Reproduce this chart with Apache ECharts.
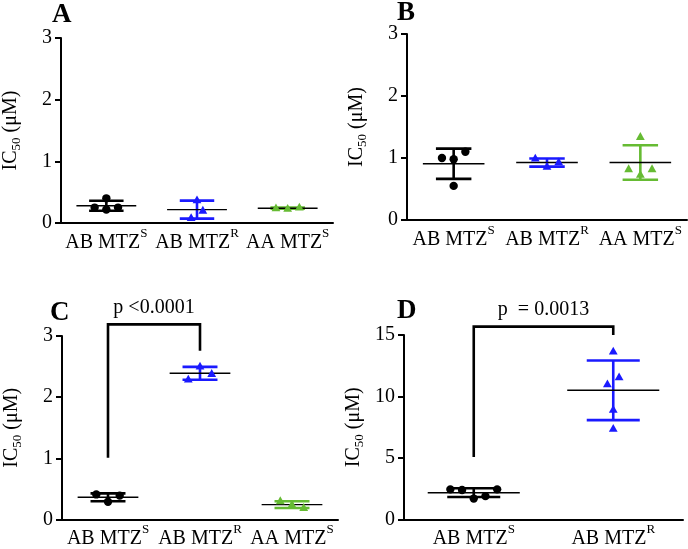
<!DOCTYPE html>
<html><head><meta charset="utf-8">
<script src="https://cdn.jsdelivr.net/npm/echarts@6/dist/echarts.min.js"></script>
<style>html,body{margin:0;padding:0;background:#fff}#c{width:688px;height:549px}</style>
</head><body><div id="c"></div>
<script>
// ---------- data ----------
const catsABC = ['AB MTZ^S', 'AB MTZ^R', 'AA MTZ^S'];
const catsD = ['AB MTZ^S', 'AB MTZ^R'];
const groupColors = ['#000000', '#1a1aff', '#66bb33'];
const groupShapes = ['circle', 'triangle', 'triangle'];

// Panel A  (IC50, µM)
const A_abS = [0.25, 0.22, 0.25, 0.40];
const A_abR = [0.37, 0.08, 0.20];
const A_aaS = [0.24, 0.23, 0.25];
// Panel B
const B_abS = [1.00, 0.98, 1.10, 0.55];
const B_abR = [0.99, 0.86, 0.93];
const B_aaS = [0.82, 0.73, 0.82, 1.34];
// Panel C
const C_abS = [0.41, 0.29, 0.39];
const C_abR = [2.29, 2.50, 2.38];
const C_aaS = [0.30, 0.24, 0.19];
// Panel D
const D_abS = [2.45, 2.40, 1.70, 1.90, 2.45];
const D_abR = [13.65, 11.00, 11.57, 8.92, 7.38];

// y axis scales
const yMaxABC = 3, yStepABC = 1;
const yMaxD = 15, yStepD = 5;

// significance brackets
const bracketC = { from: 0, to: 1, top: 3.19, leftEnd: 1.01, rightEnd: 2.76, text: 'p <0.0001' };
const bracketD = { from: 0, to: 1, top: 15.68, leftEnd: 5.08, rightEnd: 15.0, text: 'p  = 0.0013' };

const panelLetters = ['A', 'B', 'C', 'D'];

// ---------- layout ----------
const FONT = "'Liberation Serif','Times New Roman',serif";
const grids = [
  { left: 60, top: 38, width: 273, height: 185 },
  { left: 407, top: 34, width: 280, height: 186 },
  { left: 62, top: 336, width: 276, height: 185 },
  { left: 404, top: 335, width: 279, height: 185 }
];
const letterPos = [[52, 2], [397, 0], [50, 300], [397, 298]];
const SPACING = 11.7;

function mean(a) { return a.reduce((s, v) => s + v, 0) / a.length; }
function sd(a) { const m = mean(a); return Math.sqrt(a.reduce((s, v) => s + (v - m) * (v - m), 0) / (a.length - 1)); }

function dodge(values, pxPerUnit) {
  const idx = values.map((v, i) => i).sort((a, b) => values[a] - values[b]);
  const slots = new Array(values.length).fill(0);
  let cluster = [idx[0]];
  const flush = () => {
    const c = cluster.slice().sort((a, b) => a - b);
    c.forEach((k, j) => { slots[k] = j - (c.length - 1) / 2; });
  };
  for (let j = 1; j < idx.length; j++) {
    if ((values[idx[j]] - values[idx[j - 1]]) * pxPerUnit < 8) cluster.push(idx[j]);
    else { flush(); cluster = [idx[j]]; }
  }
  flush();
  return slots;
}

function catLabel(name) {
  const parts = name.split('^');
  return '{b|' + parts[0] + '}{s|' + parts[1] + '}';
}

const xAxis = [], yAxis = [], series = [];

function buildPanel(p, cats, groups, yMax, yStep, bracket) {
  xAxis.push({
    gridIndex: p, type: 'category', data: cats,
    axisLine: { lineStyle: { color: '#000', width: 2 } },
    axisTick: { alignWithLabel: true, length: 6, lineStyle: { color: '#000', width: 2 } },
    axisLabel: {
      margin: 4, color: '#000', interval: 0,
      formatter: catLabel,
      rich: {
        b: { fontSize: 20, fontFamily: FONT, color: '#000', lineHeight: 31 },
        s: { fontSize: 13, fontFamily: FONT, color: '#000', verticalAlign: 'top', lineHeight: 13 }
      }
    },
    splitLine: { show: false }
  });
  yAxis.push({
    gridIndex: p, type: 'value', min: 0, max: yMax, interval: yStep,
    axisLine: { show: true, lineStyle: { color: '#000', width: 2 } },
    axisTick: { show: true, length: 6, lineStyle: { color: '#000', width: 2 } },
    axisLabel: { color: '#000', fontSize: 20, fontFamily: FONT, margin: 9 },
    splitLine: { show: false },
    name: '{b|IC}{sub|50}{b| (μM)}',
    nameLocation: 'middle', nameRotate: 90, nameGap: 38,
    nameTextStyle: {
      rich: {
        b: { fontSize: 20, fontFamily: FONT, color: '#000', lineHeight: 24 },
        sub: { fontSize: 13, fontFamily: FONT, color: '#000', verticalAlign: 'bottom', lineHeight: 13 }
      }
    }
  });
  const pxPerUnit = grids[p].height / yMax;
  const sdData = [], ptData = [];
  groups.forEach((vals, g) => {
    sdData.push([g, mean(vals), sd(vals), g]);
    const slots = dodge(vals, pxPerUnit);
    vals.forEach((v, k) => ptData.push([g, v, slots[k], g]));
  });
  series.push({
    type: 'custom', xAxisIndex: p, yAxisIndex: p, z: 2, clip: false,
    data: sdData, encode: { x: 0, y: 1 },
    renderItem: function (params, api) {
      const i = api.value(0), m = api.value(1), s = api.value(2), g = api.value(3);
      const band = api.size([1, 0])[0];
      const c = api.coord([i, m]);
      const t = api.coord([i, m + s]);
      const b = api.coord([i, m - s]);
      const col = groupColors[g];
      const cap = band * 0.19, ml = band * 0.33;
      return {
        type: 'group', children: [
          { type: 'line', shape: { x1: c[0], y1: t[1], x2: c[0], y2: b[1] }, style: { stroke: col, lineWidth: 2.6 } },
          { type: 'line', shape: { x1: c[0] - cap, y1: t[1], x2: c[0] + cap, y2: t[1] }, style: { stroke: col, lineWidth: 2.6 } },
          { type: 'line', shape: { x1: c[0] - cap, y1: b[1], x2: c[0] + cap, y2: b[1] }, style: { stroke: col, lineWidth: 2.6 } },
          { type: 'line', shape: { x1: c[0] - ml, y1: c[1], x2: c[0] + ml, y2: c[1] }, style: { stroke: '#000', lineWidth: 1.4 } }
        ]
      };
    }
  });
  series.push({
    type: 'custom', xAxisIndex: p, yAxisIndex: p, z: 3, clip: false,
    data: ptData, encode: { x: 0, y: 1 },
    renderItem: function (params, api) {
      const g = api.value(3);
      const c = api.coord([api.value(0), api.value(1)]);
      const x = c[0] + api.value(2) * SPACING, y = c[1];
      const col = groupColors[g];
      if (groupShapes[g] === 'circle') {
        return { type: 'circle', shape: { cx: x, cy: y, r: 4.2 }, style: { fill: col } };
      }
      return { type: 'polygon', shape: { points: [[x, y - 4.8], [x - 4.4, y + 3.0], [x + 4.4, y + 3.0]] }, style: { fill: col } };
    }
  });
  if (bracket) {
    series.push({
      type: 'custom', xAxisIndex: p, yAxisIndex: p, z: 4, clip: false,
      data: [[bracket.from, bracket.top, bracket.to]], encode: { x: 0, y: 1 },
      renderItem: function (params, api) {
        const l0 = api.coord([bracket.from, bracket.leftEnd]);
        const lt = api.coord([bracket.from, bracket.top]);
        const rt = api.coord([bracket.to, bracket.top]);
        const r0 = api.coord([bracket.to, bracket.rightEnd]);
        return {
          type: 'group', children: [
            { type: 'polyline', shape: { points: [l0, lt, rt, r0] }, style: { stroke: '#000', lineWidth: 2.6, fill: null } },
            { type: 'text', x: (lt[0] + rt[0]) / 2, y: lt[1] - 7,
              style: { text: bracket.text, fontSize: 20, fontFamily: FONT, fill: '#000', align: 'center', verticalAlign: 'bottom' } }
          ]
        };
      }
    });
  }
}

buildPanel(0, catsABC, [A_abS, A_abR, A_aaS], yMaxABC, yStepABC, null);
buildPanel(1, catsABC, [B_abS, B_abR, B_aaS], yMaxABC, yStepABC, null);
buildPanel(2, catsABC, [C_abS, C_abR, C_aaS], yMaxABC, yStepABC, bracketC);
buildPanel(3, catsD, [D_abS, D_abR], yMaxD, yStepD, bracketD);

const graphic = panelLetters.map((t, i) => ({
  type: 'text', left: letterPos[i][0], top: letterPos[i][1],
  style: { text: t, fontSize: 27, fontWeight: 'bold', fontFamily: FONT, fill: '#000' }
}));

const chart = echarts.init(document.getElementById('c'), null, { renderer: 'canvas' });
chart.setOption({
  animation: false,
  backgroundColor: '#fff',
  grid: grids.map(g => Object.assign({ containLabel: false }, g)),
  xAxis, yAxis, series, graphic
});
</script>
</body></html>
